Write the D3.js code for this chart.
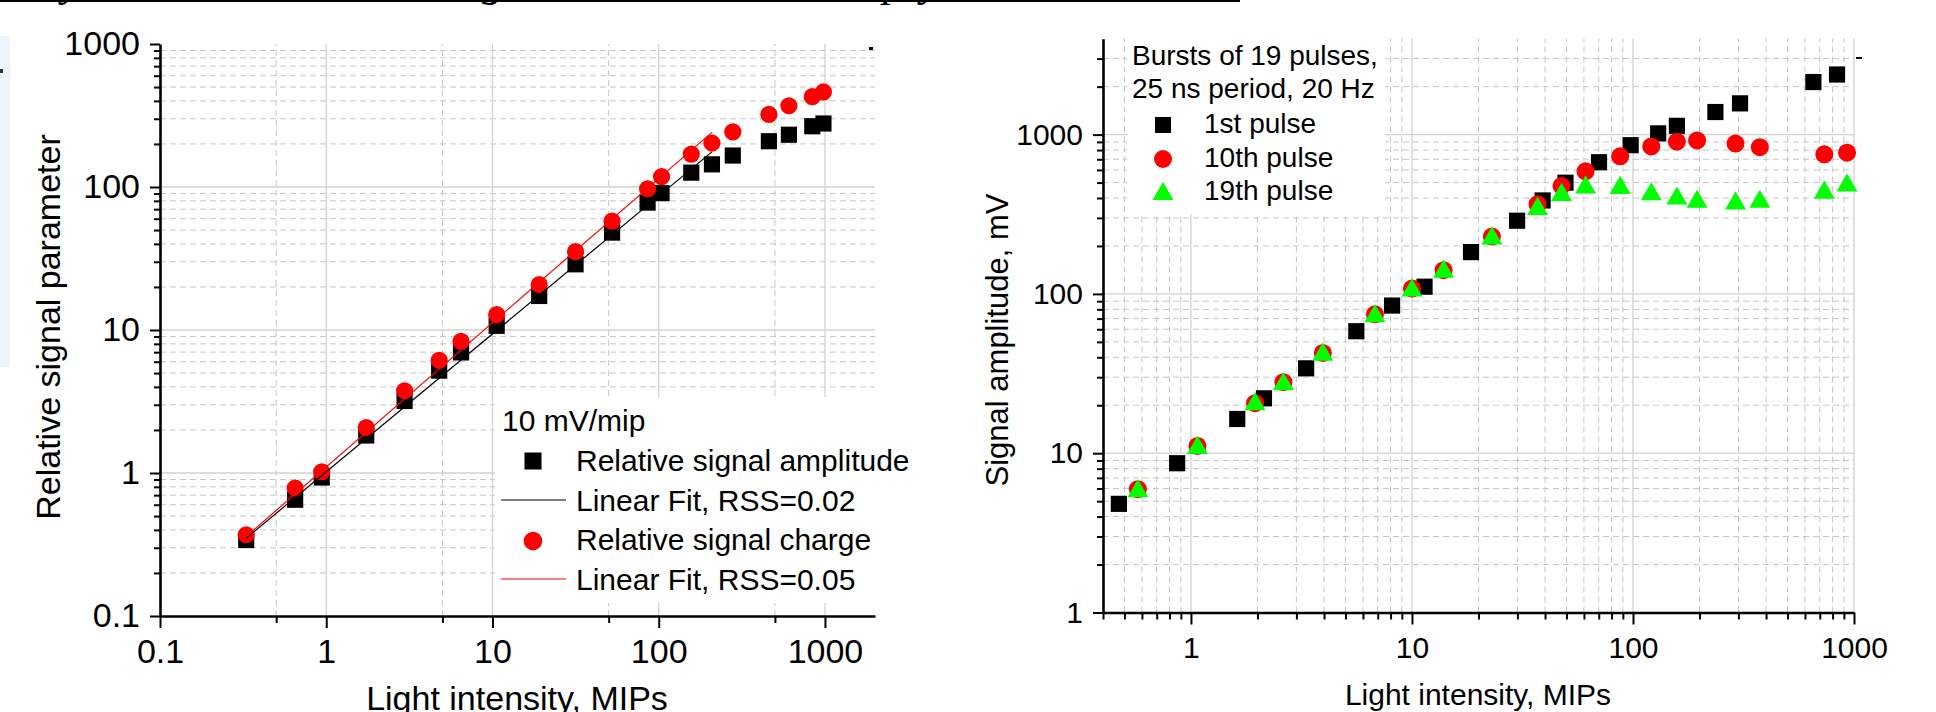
<!DOCTYPE html>
<html>
<head>
<meta charset="utf-8">
<script src="https://cdn.jsdelivr.net/npm/d3@7"></script>
<style>
  body { margin: 0; background: #fff; }
  svg { display: block; font-family: "Liberation Sans", Arial, sans-serif; }
</style>
</head>
<body>
<svg id="chart" width="1936" height="712"></svg>
<script>
// left figure: relative signal vs light intensity
const leftX = [0.33, 0.65, 0.94, 1.74, 2.96, 4.78, 6.47, 10.6, 19.1, 31.6, 52.4, 85.7, 104, 157, 209, 279, 460, 607, 839, 979];
const leftAmp = [0.34, 0.65, 0.93, 1.83, 3.19, 5.2, 6.97, 10.7, 17.3, 28.8, 48, 77.8, 90.6, 126, 144, 166, 209, 232, 266, 278];
const leftCharge = [0.37, 0.785, 1.02, 2.08, 3.76, 6.14, 8.33, 12.8, 20.8, 35.3, 57.7, 97.2, 118, 170, 203, 243, 322, 370, 428, 462];
const fitAmp = [[0.33, 0.35], [209, 176]];
const fitCharge = [[0.33, 0.36], [209, 241]];
const leftTicks = [0.1, 1, 10, 100, 1000];
const leftTickLabels = ['0.1', '1', '10', '100', '1000'];
const leftXMinor = [0.5, 5, 50, 500];
const leftLegend = ['Relative signal amplitude', 'Linear Fit, RSS=0.02', 'Relative signal charge', 'Linear Fit, RSS=0.05'];

// right figure: bursts of 19 pulses
const pulse1X = [0.472, 0.866, 1.62, 2.14, 3.32, 5.6, 8.13, 11.4, 18.5, 29.9, 39, 49.5, 70.2, 97.6, 130, 158, 236, 305, 655, 838];
const pulse1Y = [4.81, 8.65, 16.4, 22.1, 34.1, 58.3, 84.5, 111, 183, 288, 386, 499, 671, 858, 1018, 1135, 1386, 1571, 2138, 2384];
const pulseLateX = [0.575, 1.07, 1.95, 2.62, 3.95, 6.8, 10.0, 13.9, 23.0, 37.0, 47.5, 61, 87.5, 121, 158, 195, 291, 375, 734, 930];
const pulse10Y = [5.94, 11.1, 20.6, 27.9, 42.6, 74.5, 108, 141, 229, 366, 476, 588, 731, 843, 903, 919, 878, 834, 752, 770];
const pulse19Y = [5.77, 10.8, 20.3, 27.1, 41.6, 72.4, 105, 138, 223, 342, 418, 466, 463, 422, 397, 379, 370, 379, 432, 479];
const rightTicks = [1, 10, 100, 1000];
const rightTickLabels = ['1', '10', '100', '1000'];
const rightLegend = ['1st pulse', '10th pulse', '19th pulse'];

const svg = d3.select('#chart');

function logMinor(lo, hi) {
  const out = [];
  for (let e = -2; e <= 4; e++) {
    for (let m = 2; m <= 9; m++) {
      const v = +(m * Math.pow(10, e)).toPrecision(6);
      if (v > lo && v < hi) out.push(v);
    }
  }
  return out;
}

function grid(g, x, y, xMajor, xMinor, yMajor, yMinor) {
  const [x0, x1] = x.range(), [y0, y1] = y.range();
  const dash = '#c6c6c6', solid = '#d2d2d2';
  g.append('g').selectAll('line').data(xMinor).join('line')
    .attr('x1', d => x(d)).attr('x2', d => x(d)).attr('y1', y0).attr('y2', y1)
    .attr('stroke', dash).attr('stroke-dasharray', '6,4');
  g.append('g').selectAll('line').data(yMinor).join('line')
    .attr('x1', x0).attr('x2', x1).attr('y1', d => y(d)).attr('y2', d => y(d))
    .attr('stroke', dash).attr('stroke-dasharray', '6,4');
  g.append('g').selectAll('line').data(xMajor).join('line')
    .attr('x1', d => x(d)).attr('x2', d => x(d)).attr('y1', y0).attr('y2', y1)
    .attr('stroke', solid).attr('stroke-width', 1.3);
  g.append('g').selectAll('line').data(yMajor).join('line')
    .attr('x1', x0).attr('x2', x1).attr('y1', d => y(d)).attr('y2', d => y(d))
    .attr('stroke', solid).attr('stroke-width', 1.3);
}

function axes(g, x, y, o) {
  const y0 = y.range()[0], x0 = x.range()[0];
  const bx = g.append('g').attr('transform', `translate(0,${y0})`);
  bx.append('g').call(d3.axisBottom(x).tickValues(o.xMinor).tickSize(7).tickFormat(''))
    .select('.domain').remove();
  bx.append('g').call(d3.axisBottom(x).tickValues(o.ticks).tickSize(12).tickSizeOuter(0)
    .tickPadding(o.xPad).tickFormat((d, i) => o.labels[i]));
  const ly = g.append('g').attr('transform', `translate(${x0},0)`);
  ly.append('g').call(d3.axisLeft(y).tickValues(o.yMinor).tickSize(6).tickFormat(''))
    .select('.domain').remove();
  ly.append('g').call(d3.axisLeft(y).tickValues(o.ticks).tickSize(10).tickSizeOuter(0)
    .tickPadding(10).tickFormat((d, i) => o.labels[i]));
  for (const a of [bx, ly]) {
    a.selectAll('g').attr('font-family', null).attr('font-size', o.font);
    a.selectAll('.tick line').attr('stroke-width', 2);
    a.selectAll('.domain').attr('stroke-width', 2.6);
    a.selectAll('text').attr('fill', '#000');
  }
}

// page bits around the figures
svg.append('rect').attr('x', 0).attr('y', 0).attr('width', 1240).attr('height', 2).attr('fill', '#000');
svg.append('g').selectAll('text').data([[62, 'y'], [482, 'g'], [883, 'p'], [921, 'y']]).join('text')
  .attr('x', d => d[0]).attr('y', -4).text(d => d[1])
  .attr('font-family', '"Liberation Serif", "DejaVu Serif", serif')
  .attr('font-style', 'italic').attr('font-size', 44);
svg.append('rect').attr('x', 0).attr('y', 36).attr('width', 10).attr('height', 331).attr('fill', '#eef5fc');
svg.append('rect').attr('x', 0).attr('y', 69).attr('width', 3).attr('height', 4).attr('fill', '#333');

// ---- left figure ----
const xL = d3.scaleLog().domain([0.1, 2000]).range([160, 875]);
const yL = d3.scaleLog().domain([0.1, 1000]).range([616, 44]);
const gL = svg.append('g');
grid(gL, xL, yL, [1, 10, 100, 1000], leftXMinor, [1, 10, 100], logMinor(0.1, 1000));
gL.append('rect').attr('x', 495).attr('y', 397).attr('width', 440).attr('height', 206).attr('fill', '#fff');
axes(gL, xL, yL, {ticks: leftTicks, labels: leftTickLabels, xMinor: leftXMinor,
  yMinor: logMinor(0.1, 1000), font: 34, xPad: 11});
gL.append('rect').attr('x', 869).attr('y', 47).attr('width', 4).attr('height', 3).attr('fill', '#000');

gL.append('g').selectAll('path').data(leftX).join('path')
  .attr('transform', (d, i) => `translate(${xL(d)},${yL(leftAmp[i])})`)
  .attr('d', d3.symbol(d3.symbolSquare, 262)).attr('fill', '#000');
gL.append('g').selectAll('circle').data(leftX).join('circle')
  .attr('cx', d => xL(d)).attr('cy', (d, i) => yL(leftCharge[i])).attr('r', 8.6).attr('fill', '#ff0000');
const lineL = d3.line().x(d => xL(d[0])).y(d => yL(d[1]));
gL.append('path').attr('d', lineL(fitAmp)).attr('stroke', '#000').attr('stroke-width', 1.2).attr('fill', 'none');
gL.append('path').attr('d', lineL(fitCharge)).attr('stroke', '#ff0000').attr('stroke-width', 1.2).attr('fill', 'none');

gL.append('text').attr('x', 517).attr('y', 710).attr('text-anchor', 'middle').attr('font-size', 34)
  .text('Light intensity, MIPs');
gL.append('text').attr('transform', 'translate(60,327) rotate(-90)').attr('text-anchor', 'middle')
  .attr('font-size', 34).text('Relative signal parameter');

const legL = gL.append('g').attr('font-size', 30);
legL.append('text').attr('x', 502).attr('y', 431).text('10 mV/mip');
legL.selectAll('text.item').data(leftLegend).join('text').attr('class', 'item')
  .attr('x', 576).attr('y', (d, i) => 471 + i * 39.5).text(d => d);
legL.append('path').attr('transform', 'translate(533,461)').attr('d', d3.symbol(d3.symbolSquare, 290)).attr('fill', '#000');
legL.append('line').attr('x1', 501).attr('x2', 566).attr('y1', 500).attr('y2', 500).attr('stroke', '#000').attr('stroke-width', 1.2);
legL.append('circle').attr('cx', 533).attr('cy', 541).attr('r', 9.3).attr('fill', '#ff0000');
legL.append('line').attr('x1', 501).attr('x2', 566).attr('y1', 579).attr('y2', 579).attr('stroke', '#ff0000').attr('stroke-width', 1.2);

// ---- right figure ----
const xR = d3.scaleLog().domain([0.4, 1000]).range([1103, 1854]);
const yR = d3.scaleLog().domain([1, 4000]).range([612.5, 38.7]);
const gR = svg.append('g');
const xRMinor = logMinor(0.4, 1000).concat([0.4]);
grid(gR, xR, yR, [1, 10, 100, 1000], logMinor(0.4, 1000), [10, 100, 1000], logMinor(1, 4000));
gR.append('rect').attr('x', 1127).attr('y', 38).attr('width', 258).attr('height', 176).attr('fill', '#fff');
axes(gR, xR, yR, {ticks: rightTicks, labels: rightTickLabels, xMinor: xRMinor,
  yMinor: logMinor(1, 4000), font: 30, xPad: 12});
gR.append('rect').attr('x', 1856).attr('y', 57).attr('width', 6).attr('height', 2).attr('fill', '#000');

gR.append('g').selectAll('path').data(pulse1X).join('path')
  .attr('transform', (d, i) => `translate(${xR(d)},${yR(pulse1Y[i])})`)
  .attr('d', d3.symbol(d3.symbolSquare, 262)).attr('fill', '#000');
gR.append('g').selectAll('circle').data(pulseLateX).join('circle')
  .attr('cx', d => xR(d)).attr('cy', (d, i) => yR(pulse10Y[i])).attr('r', 9).attr('fill', '#ff0000');
gR.append('g').selectAll('path').data(pulseLateX).join('path')
  .attr('transform', (d, i) => `translate(${xR(d)},${yR(pulse19Y[i])})`)
  .attr('d', d3.symbol(d3.symbolTriangle, 190)).attr('fill', '#00ff00');

gR.append('text').attr('x', 1478).attr('y', 705).attr('text-anchor', 'middle').attr('font-size', 30)
  .text('Light intensity, MIPs');
gR.append('text').attr('transform', 'translate(1008,340) rotate(-90)').attr('text-anchor', 'middle')
  .attr('font-size', 31).text('Signal amplitude, mV');

const legR = gR.append('g').attr('font-size', 28);
legR.append('text').attr('x', 1132).attr('y', 65).text('Bursts of 19 pulses,');
legR.append('text').attr('x', 1132).attr('y', 98).text('25 ns period, 20 Hz');
legR.selectAll('text.item').data(rightLegend).join('text').attr('class', 'item')
  .attr('x', 1204).attr('y', (d, i) => 133 + i * 33.5).text(d => d);
legR.append('path').attr('transform', 'translate(1163,125)').attr('d', d3.symbol(d3.symbolSquare, 256)).attr('fill', '#000');
legR.append('circle').attr('cx', 1163).attr('cy', 159).attr('r', 9).attr('fill', '#ff0000');
legR.append('path').attr('transform', 'translate(1163,194)').attr('d', d3.symbol(d3.symbolTriangle, 190)).attr('fill', '#00ff00');
</script>
</body>
</html>
